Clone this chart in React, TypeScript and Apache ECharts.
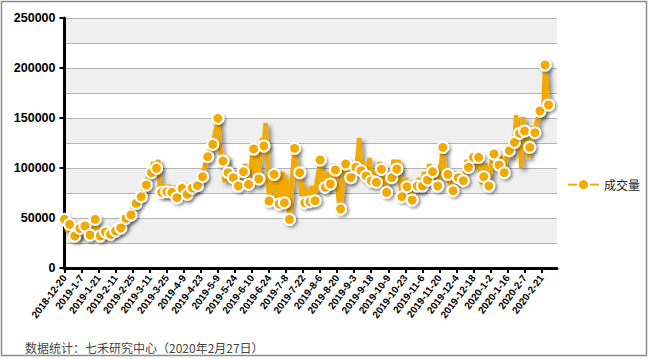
import React, { useEffect, useRef } from "react";
import * as echarts from "echarts";

// Tick labels every 10 trading days
const TICK_LABELS = [
  "2018-12-20", "2019-1-7", "2019-1-21", "2019-2-11", "2019-2-25", "2019-3-11",
  "2019-3-25", "2019-4-9", "2019-4-23", "2019-5-9", "2019-5-24", "2019-6-10",
  "2019-6-24", "2019-7-8", "2019-7-22", "2019-8-6", "2019-8-20", "2019-9-3",
  "2019-9-18", "2019-10-9", "2019-10-23", "2019-11-6", "2019-11-20", "2019-12-4",
  "2019-12-18", "2020-1-2", "2020-1-16", "2020-2-7", "2020-2-21",
];

const SERIES_NAME = "成交量";

// Daily volume values (285 trading days)
const VOLUME = [
  48700, 41000, 36000, 43700, 35000, 30000, 32000, 38000, 29000, 39700,
  33000, 40000, 42000, 36000, 30000, 33000, 42000, 45000, 48700, 38000,
  30000, 32000, 37000, 31000, 36000, 40000, 33000, 33700, 41000, 35000,
  37000, 43000, 38000, 40000, 45000, 41000, 49700, 56000, 50000, 53000,
  60000, 58000, 64700, 73000, 68000, 71300, 78000, 76000, 83000, 92000,
  98000, 95300, 106000, 100000, 99700, 108000, 80000, 75700, 84000, 72000,
  76300, 83000, 74000, 75700, 82000, 72000, 70300, 80000, 76000, 79700,
  74000, 70000, 73700, 85000, 82000, 80000, 76000, 86000, 82300, 88000,
  85000, 91300, 100000, 106000, 111300, 118000, 115000, 123700, 132000, 140000,
  149700, 125000, 110000, 107000, 86000, 112000, 95300, 88000, 100000, 90300,
  86000, 94000, 82000, 100000, 95000, 96300, 104000, 88000, 83700, 95000,
  110000, 119000, 100000, 82000, 89000, 112000, 130000, 122000, 145000, 112000,
  67000, 82000, 98000, 93700, 70000, 97000, 64000, 88000, 96000, 65300,
  90000, 75000, 48700, 68000, 100000, 119700, 105000, 92000, 95300, 72000,
  84000, 65300, 78000, 70000, 66300, 82000, 74000, 67300, 86000, 95000,
  108000, 92000, 77000, 80700, 96000, 82000, 84000, 92000, 104000, 98000,
  84000, 66000, 59000, 78000, 96000, 104000, 92000, 86000, 90300, 102000,
  94000, 100700, 112000, 130000, 97300, 106000, 92000, 92000, 102000, 110000,
  87000, 98000, 90000, 85700, 100000, 106000, 98700, 92000, 80000, 75700,
  96000, 88000, 90300, 108000, 104000, 99000, 108000, 86000, 71300, 84000,
  90000, 81300, 76000, 72000, 68000, 78000, 84000, 82000, 90000, 76000,
  82000, 96000, 86000, 88000, 104000, 96000, 96300, 90000, 84000, 82000,
  100000, 104000, 120700, 96000, 88000, 93700, 85000, 80000, 77300, 92000,
  96000, 90300, 86000, 94000, 87300, 98000, 108000, 100700, 112000, 106000,
  110700, 114000, 100000, 110700, 96000, 84000, 91300, 105000, 88000, 82000,
  100000, 112000, 114000, 108000, 98000, 103000, 112000, 100000, 95300, 108000,
  114000, 117300, 110000, 122000, 125700, 153000, 128000, 134700, 100000, 151000,
  137000, 128000, 110000, 120700, 130000, 142000, 135300, 146000, 150000, 157000,
  152000, 160000, 203000, 178000, 163000,
];

const Y_TICKS = [0, 50000, 100000, 150000, 200000, 250000];
const FOOTER = "数据统计：七禾研究中心（2020年2月27日）";
const EXTRA_CATEGORIES = 5;

const ORANGE = "#f2a900";

export default function App() {
  const ref = useRef<HTMLDivElement>(null);

  useEffect(() => {
    document.body.style.margin = "0";
    if (!ref.current) return;
    const chart = echarts.init(ref.current, undefined, { renderer: "svg" });

    const total = VOLUME.length + EXTRA_CATEGORIES;
    const categories: string[] = [];
    for (let i = 0; i < total; i++) {
      categories.push(i % 10 === 0 && i / 10 < TICK_LABELS.length ? TICK_LABELS[i / 10] : "");
    }
    const lastIdx = VOLUME.length - 1;
    const data = VOLUME.map((v, i) => ({
      value: v,
      symbol: i % 3 === 0 || i === lastIdx ? "circle" : "none",
    }));

    const numFont = "'Liberation Sans', Arial, sans-serif";
    const cjkFont = "'Noto Sans CJK SC', 'Liberation Sans', sans-serif";

    chart.setOption({
      animation: false,
      backgroundColor: "#ffffff",
      grid: { left: 64.5, top: 18, width: 492.5, height: 250, containLabel: false },
      legend: {
        data: [{ name: SERIES_NAME, itemStyle: { borderWidth: 2, borderColor: "#fff" } }],
        left: 562,
        top: 173,
        itemWidth: 31,
        itemHeight: 14,
        textStyle: { fontSize: 12, color: "#222", fontFamily: cjkFont },
      },
      xAxis: {
        type: "category",
        data: categories,
        boundaryGap: false,
        axisLine: { show: true, lineStyle: { color: "#000", width: 3 } },
        axisTick: { show: true, interval: 9, length: 5, lineStyle: { color: "#000", width: 2 } },
        axisLabel: {
          interval: 9,
          rotate: 53,
          margin: 8,
          fontSize: 10,
          fontWeight: "bold",
          color: "#000",
          fontFamily: numFont,
        },
        splitLine: { show: false },
      },
      yAxis: [
        {
          type: "value",
          min: 0,
          max: Y_TICKS[Y_TICKS.length - 1],
          interval: Y_TICKS[1] - Y_TICKS[0],
          axisLine: { show: true, lineStyle: { color: "#000", width: 3 } },
          axisTick: { show: true, length: 5, lineStyle: { color: "#000", width: 2 } },
          axisLabel: {
            margin: 9,
            fontSize: 12.5,
            fontWeight: "bold",
            color: "#000",
            fontFamily: numFont,
            formatter: (v: number) => String(v),
          },
          splitLine: { show: false },
          z: 3,
        },
        {
          type: "value",
          min: 0,
          max: Y_TICKS[Y_TICKS.length - 1],
          interval: 25000,
          position: "left",
          axisLine: { show: false },
          axisTick: { show: false },
          axisLabel: { show: false },
          splitLine: { show: true, lineStyle: { color: "#b4b4b4", width: 1 } },
          splitArea: { show: true, areaStyle: { color: ["#ffffff", "#efefef"] } },
          z: 0,
        },
      ],
      series: [
        {
          name: SERIES_NAME,
          type: "line",
          yAxisIndex: 0,
          data,
          symbol: "circle",
          symbolSize: 11,
          showSymbol: true,
          showAllSymbol: true,
          lineStyle: {
            color: ORANGE,
            width: 4.5,
            shadowColor: "rgba(0,0,0,0.45)",
            shadowBlur: 4,
            shadowOffsetX: 3,
            shadowOffsetY: 3,
          },
          itemStyle: {
            color: ORANGE,
            borderColor: "#ffffff",
            borderWidth: 2,
            shadowColor: "rgba(0,0,0,0.35)",
            shadowBlur: 3,
            shadowOffsetX: 2,
            shadowOffsetY: 2,
          },
          z: 5,
        },
      ],
      graphic: [
        {
          type: "rect",
          shape: { x: 1.5, y: 1.5, width: 645, height: 354 },
          style: { fill: "none", stroke: "#8a8a8a", lineWidth: 1.5 },
          silent: true,
        },
        {
          type: "text",
          left: 25,
          top: 341,
          style: { text: FOOTER, fontSize: 12, fill: "#444", fontFamily: cjkFont },
        },
      ],
    });

    return () => chart.dispose();
  }, []);

  return <div ref={ref} style={{ width: 651, height: 359 }} />;
}
